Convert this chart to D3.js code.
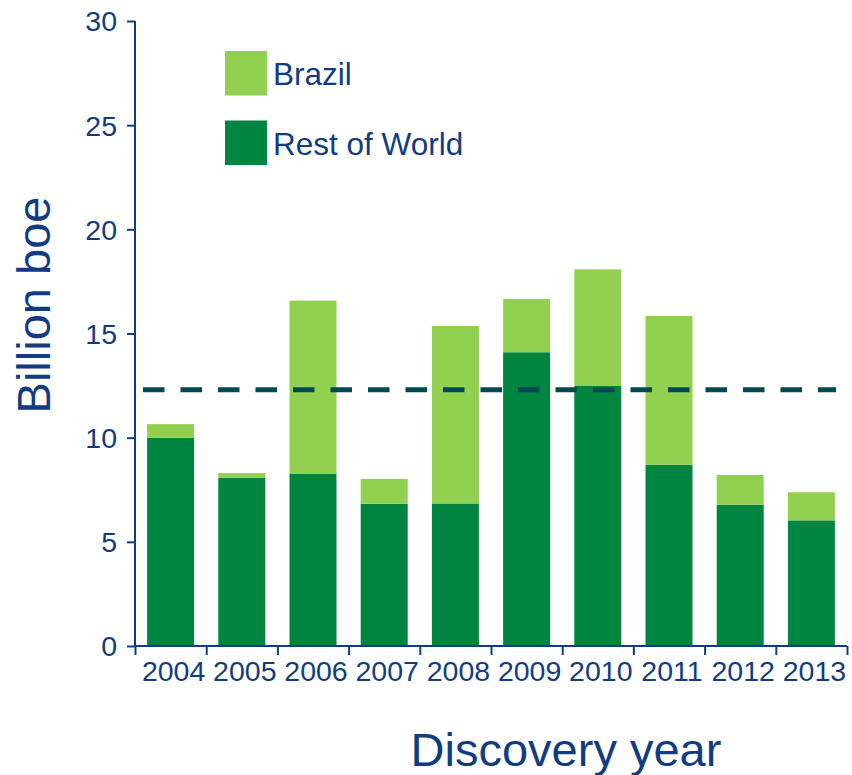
<!DOCTYPE html>
<html>
<head>
<meta charset="utf-8">
<script src="https://cdn.jsdelivr.net/npm/d3@7"></script>
<style>
  body { margin: 0; background: #fff; }
  text { font-family: "Liberation Sans", Arial, sans-serif; }
</style>
</head>
<body>
<div id="chart"></div>
<script>
var years = ["2004", "2005", "2006", "2007", "2008", "2009", "2010", "2011", "2012", "2013"];
var restOfWorld = [10.0, 8.07, 8.26, 6.83, 6.84, 14.1, 12.48, 8.7, 6.78, 6.03];
var brazil = [0.65, 0.23, 8.32, 1.19, 8.52, 2.56, 5.6, 7.14, 1.43, 1.35];
var averageLine = 12.3;
var yTicks = [0, 5, 10, 15, 20, 25, 30];
var seriesNames = ["Brazil", "Rest of World"];

var textColor = "#123c82";
var lightGreen = "#92d050";
var darkGreen = "#008540";
var dashColor = "#004852";

var W = 852, H = 775;
var margin = {top: 21, right: 5, bottom: 129, left: 135};
var width = 847 - margin.left;
var height = 646 - margin.top;

var svg = d3.select("#chart").append("svg")
    .attr("width", W)
    .attr("height", H);

var g = svg.append("g")
    .attr("transform", "translate(" + margin.left + "," + margin.top + ")");

var x = d3.scaleBand().domain(years).range([0, width]).paddingInner(0.34).paddingOuter(0.17);
var xEdge = d3.scaleLinear().domain([0, years.length]).range([0, width]);
var y = d3.scaleLinear().domain([0, 30]).range([height, 0]);

var data = years.map(function(yr, i) {
  return {year: yr, row: restOfWorld[i], brazil: brazil[i]};
});

// bars: rest of world at bottom, brazil stacked on top
g.selectAll(".row").data(data).enter().append("rect")
  .attr("x", d => x(d.year))
  .attr("width", x.bandwidth())
  .attr("y", d => y(d.row))
  .attr("height", d => y(0) - y(d.row))
  .attr("fill", darkGreen);

g.selectAll(".br").data(data).enter().append("rect")
  .attr("x", d => x(d.year))
  .attr("width", x.bandwidth())
  .attr("y", d => y(d.row + d.brazil))
  .attr("height", d => y(d.row) - y(d.row + d.brazil))
  .attr("fill", lightGreen);

// dashed average line
g.append("line")
  .attr("x1", 8).attr("x2", width - 11)
  .attr("y1", y(averageLine)).attr("y2", y(averageLine))
  .attr("stroke", dashColor)
  .attr("stroke-width", 5)
  .attr("stroke-dasharray", "21.5,16");

// y axis
var yAxis = g.append("g")
  .call(d3.axisLeft(y).tickValues(yTicks).tickSize(8).tickPadding(10));
// x axis ticks at category edges
var xAxis = g.append("g")
  .attr("transform", "translate(0," + height + ")")
  .call(d3.axisBottom(xEdge).ticks(years.length).tickSize(9).tickFormat(""));
// x labels
var xLabels = g.append("g")
  .attr("transform", "translate(3," + height + ")")
  .call(d3.axisBottom(x).tickSize(0).tickPadding(35));
xLabels.select(".domain").remove();

[yAxis, xAxis].forEach(function(a) {
  a.select(".domain").attr("stroke", textColor).attr("stroke-width", 2);
  a.selectAll(".tick line").attr("stroke", textColor).attr("stroke-width", 2);
});
yAxis.select(".domain").attr("d", "M0," + y(30) + "V" + y(0));
xAxis.select(".domain").attr("d", "M0,0H" + width);

g.selectAll(".tick text")
  .attr("fill", textColor)
  .style("font-size", "28.5px")
  .style("font-family", "'Liberation Sans', Arial, sans-serif");
yAxis.selectAll(".tick text").attr("dy", "0.35em");
xLabels.selectAll(".tick text").attr("dy", "0");

// axis titles
svg.append("text")
  .attr("transform", "translate(50,305) rotate(-90)")
  .attr("text-anchor", "middle")
  .attr("fill", textColor)
  .style("font-size", "47px")
  .text("Billion boe");

svg.append("text")
  .attr("x", 566).attr("y", 766)
  .attr("text-anchor", "middle")
  .attr("fill", textColor)
  .style("font-size", "47px")
  .text("Discovery year");

// legend
var legend = svg.append("g").attr("transform", "translate(225,51)");
var legendColors = [lightGreen, darkGreen];
seriesNames.forEach(function(name, i) {
  var row = legend.append("g").attr("transform", "translate(0," + (i * 69.5) + ")");
  row.append("rect").attr("width", 42).attr("height", 44.5).attr("fill", legendColors[i]);
  row.append("text")
    .attr("x", 48).attr("y", 34)
    .attr("fill", textColor)
    .style("font-size", "31.5px")
    .text(name);
});
</script>
</body>
</html>
